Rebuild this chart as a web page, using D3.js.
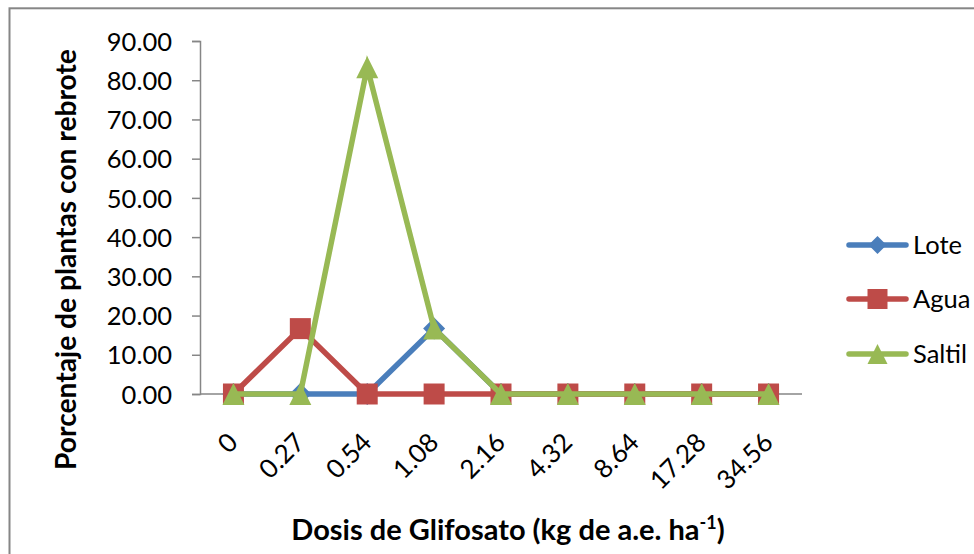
<!DOCTYPE html>
<html>
<head>
<meta charset="utf-8">
<script src="https://cdn.jsdelivr.net/npm/d3@7/dist/d3.min.js"></script>
<style>
  html, body { margin: 0; padding: 0; background: #ffffff; }
  svg { display: block; }
  text { font-family: Lato, "Open Sans", sans-serif; fill: #000; }
</style>
</head>
<body>
<svg id="chart" width="974" height="554"></svg>
<script>
// Dose categories (kg a.e. ha-1)
const doses = ["0", "0.27", "0.54", "1.08", "2.16", "4.32", "8.64", "17.28", "34.56"];
// Percentage of plants with regrowth per population
const lote   = [0, 0, 0, 16.67, 0, 0, 0, 0, 0];
const agua   = [0, 16.67, 0, 0, 0, 0, 0, 0, 0];
const saltil = [0, 0, 83.33, 16.67, 0, 0, 0, 0, 0];
const seriesNames = ["Lote", "Agua", "Saltil"];
const yTicks = [0, 10, 20, 30, 40, 50, 60, 70, 80, 90];

const series = [
  { name: seriesNames[0], values: lote,   color: "#4A7EBB", marker: "diamond" },
  { name: seriesNames[1], values: agua,   color: "#BE4B48", marker: "square" },
  { name: seriesNames[2], values: saltil, color: "#98B954", marker: "triangle" }
];

const svg = d3.select("#chart");
const axisColor = "#868686";

// Outer chart frame (runs off the right and bottom edges)
svg.append("rect")
  .attr("x", 9.5).attr("y", 8.3)
  .attr("width", 1000).attr("height", 600)
  .attr("fill", "none").attr("stroke", axisColor).attr("stroke-width", 2);

const plot = { left: 200, right: 802, top: 41, bottom: 394 };

const x = d3.scaleBand().domain(doses).range([plot.left, plot.right]).padding(0);
const cx = d => x(d) + x.bandwidth() / 2;
const y = d3.scaleLinear().domain([0, 90]).range([plot.bottom, plot.top]);

// Y axis
const yAxis = d3.axisLeft(y).tickValues(yTicks).tickSize(8).tickPadding(20)
  .tickFormat(d3.format(".2f"));
const gy = svg.append("g").attr("transform", `translate(${plot.left},0)`).call(yAxis);
gy.select(".domain").attr("stroke", axisColor).attr("stroke-width", 1.5);
gy.selectAll(".tick line").attr("stroke", axisColor).attr("stroke-width", 1.5);
gy.selectAll(".tick text")
  .attr("font-size", 25.5).attr("font-family", "Lato, sans-serif")
  .attr("fill", "#000").attr("dy", "0.36em");

// X axis line
svg.append("line")
  .attr("x1", plot.left).attr("x2", plot.right)
  .attr("y1", y(0)).attr("y2", y(0))
  .attr("stroke", axisColor).attr("stroke-width", 1.5);

// X tick labels, rotated
svg.append("g").selectAll("text").data(doses).join("text")
  .attr("transform", d => `translate(${cx(d) + 6},${444}) rotate(-45)`)
  .attr("text-anchor", "end")
  .attr("font-size", 26)
  .text(d => d);

// Marker shapes
function markerPath(type, s) {
  const h = s / 2;
  if (type === "square") return `M${-h},${-h}H${h}V${h}H${-h}Z`;
  if (type === "diamond") return `M0,${-h}L${h},0L0,${h}L${-h},0Z`;
  // triangle
  return `M0,${-h}L${h},${h}L${-h},${h}Z`;
}
const markerSize = { square: 21, diamond: 22, triangle: 22 };

const line = d3.line().x((d, i) => cx(doses[i])).y(d => y(d));

series.forEach(s => {
  const g = svg.append("g");
  g.append("path")
    .attr("d", line(s.values))
    .attr("fill", "none")
    .attr("stroke", s.color)
    .attr("stroke-width", 5.5)
    .attr("stroke-linejoin", "miter")
    .attr("stroke-miterlimit", 10);
  g.selectAll("path.m").data(s.values).join("path")
    .attr("class", "m")
    .attr("transform", (d, i) => `translate(${cx(doses[i])},${y(d)})`)
    .attr("d", markerPath(s.marker, markerSize[s.marker]))
    .attr("fill", s.color);
});

// Legend
const legendY = [245, 299, 354];
const lg = svg.append("g");
series.forEach((s, i) => {
  const gy2 = legendY[i];
  lg.append("line")
    .attr("x1", 849).attr("x2", 906)
    .attr("y1", gy2).attr("y2", gy2)
    .attr("stroke", s.color).attr("stroke-width", 5.5)
    .attr("stroke-linecap", "round");
  lg.append("path")
    .attr("transform", `translate(${877.5},${gy2})`)
    .attr("d", markerPath(s.marker, s.marker === "diamond" ? 18 : 20))
    .attr("fill", s.color);
  lg.append("text")
    .attr("x", 913).attr("y", gy2)
    .attr("dy", "0.36em")
    .attr("font-size", 25.5)
    .text(s.name);
});

// Axis titles
svg.append("text")
  .attr("transform", `translate(76,259.5) rotate(-90)`)
  .attr("text-anchor", "middle")
  .attr("font-weight", "bold")
  .attr("font-size", 28.2)
  .text("Porcentaje de plantas con rebrote");

const xt = svg.append("text")
  .attr("x", 508).attr("y", 540)
  .attr("text-anchor", "middle")
  .attr("font-weight", "bold")
  .attr("font-size", 29);
xt.append("tspan").text("Dosis de Glifosato (kg de a.e. ha");
xt.append("tspan").attr("font-size", 18).attr("dy", -11).text("-1");
xt.append("tspan").attr("dy", 11).text(")");
</script>
</body>
</html>
